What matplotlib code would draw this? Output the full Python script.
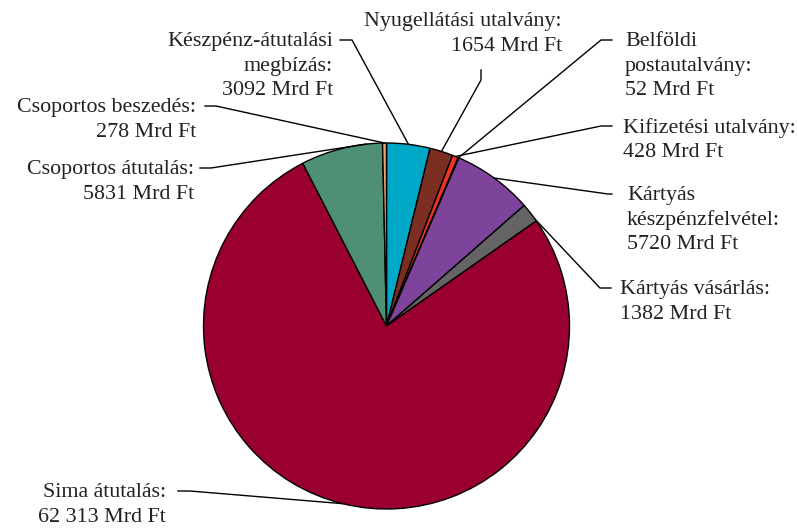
import numpy as np
import matplotlib.pyplot as plt

# adatok (Mrd Ft), az óramutató járása szerint, a 12 órás iránytól indulva
labels = ['Készpénz-átutalási\nmegbízás:\n3092 Mrd Ft',
          'Nyugellátási utalvány:\n1654 Mrd Ft',
          'Kifizetési utalvány:\n428 Mrd Ft',
          'Belföldi\npostautalvány:\n52 Mrd Ft',
          'Kártyás\nkészpénzfelvétel:\n5720 Mrd Ft',
          'Kártyás vásárlás:\n1382 Mrd Ft',
          'Sima átutalás:\n62 313 Mrd Ft',
          'Csoportos átutalás:\n5831 Mrd Ft',
          'Csoportos beszedés:\n278 Mrd Ft']
values = [3092, 1654, 428, 52, 5720, 1382, 62313, 5831, 278]
colors = ['#00a8c8', '#7b2f22', '#ee3322', '#ffe800', '#7e439a',
          '#646464', '#990030', '#4f8f73', '#f2a070']

# címkék helye (pixel, y lefelé), igazítás, "fül" a vonal végén,
# és hogy a szeleten belül hol fut be a vonal (0..1)
label_pos = [(333, 66, 'right', 340, 352, 0.5),
             (562, 34, 'right', 481, 481, 0.5),
             (623, 140, 'left', 612, 601, 0.5),
             (625, 66, 'left', 612, 601, 0.5),
             (627, 220, 'left', 612, 608, 0.5),
             (620, 302, 'left', 611, 600, 0.9),
             (166, 505, 'right', 178, 190, 0.5),
             (194, 182, 'right', 200, 211, 0.8),
             (196, 120, 'right', 205, 216, 0.5)]

W, H = 798, 530
cx, cy, r = 386.5, H - 326, 183

plt.rcParams['font.family'] = ['Liberation Serif', 'DejaVu Serif']

fig = plt.figure(figsize=(W / 100, H / 100), dpi=100)
ax = fig.add_axes([0, 0, 1, 1])

wedges, _ = ax.pie(values, colors=colors, startangle=90, counterclock=False,
                   center=(cx, cy), radius=r, frame=True,
                   wedgeprops=dict(edgecolor='black', linewidth=1.0))
ax.set_xlim(0, W)
ax.set_ylim(0, H)
ax.set_aspect('equal')
ax.axis('off')

for w, lab, (lx, ly, ha, x1, x2, f) in zip(wedges, labels, label_pos):
    # theta2 a kezdő szél, mert az óramutató irányába megyünk
    ang = np.deg2rad(w.theta2 + (w.theta1 - w.theta2) * f)
    px = cx + r * np.cos(ang)
    py = cy + r * np.sin(ang)
    nlines = lab.count('\n') + 1
    # a vonal az első sor magasságában csatlakozik
    first_y = ly - (nlines - 1) * 12
    if x1 == x2:
        # függőleges fül (Nyugellátási)
        ax.plot([x1, x1, px], [H - 70, H - 80, py], color='black', lw=1)
    else:
        ax.plot([x1, x2, px], [H - first_y + 2, H - first_y + 2, py], color='black', lw=1)
    ax.text(lx, H - ly, lab, ha=ha, va='center', fontsize=15.8,
            linespacing=1.36, color='#222222')

fig.savefig('out.png', dpi=100)
